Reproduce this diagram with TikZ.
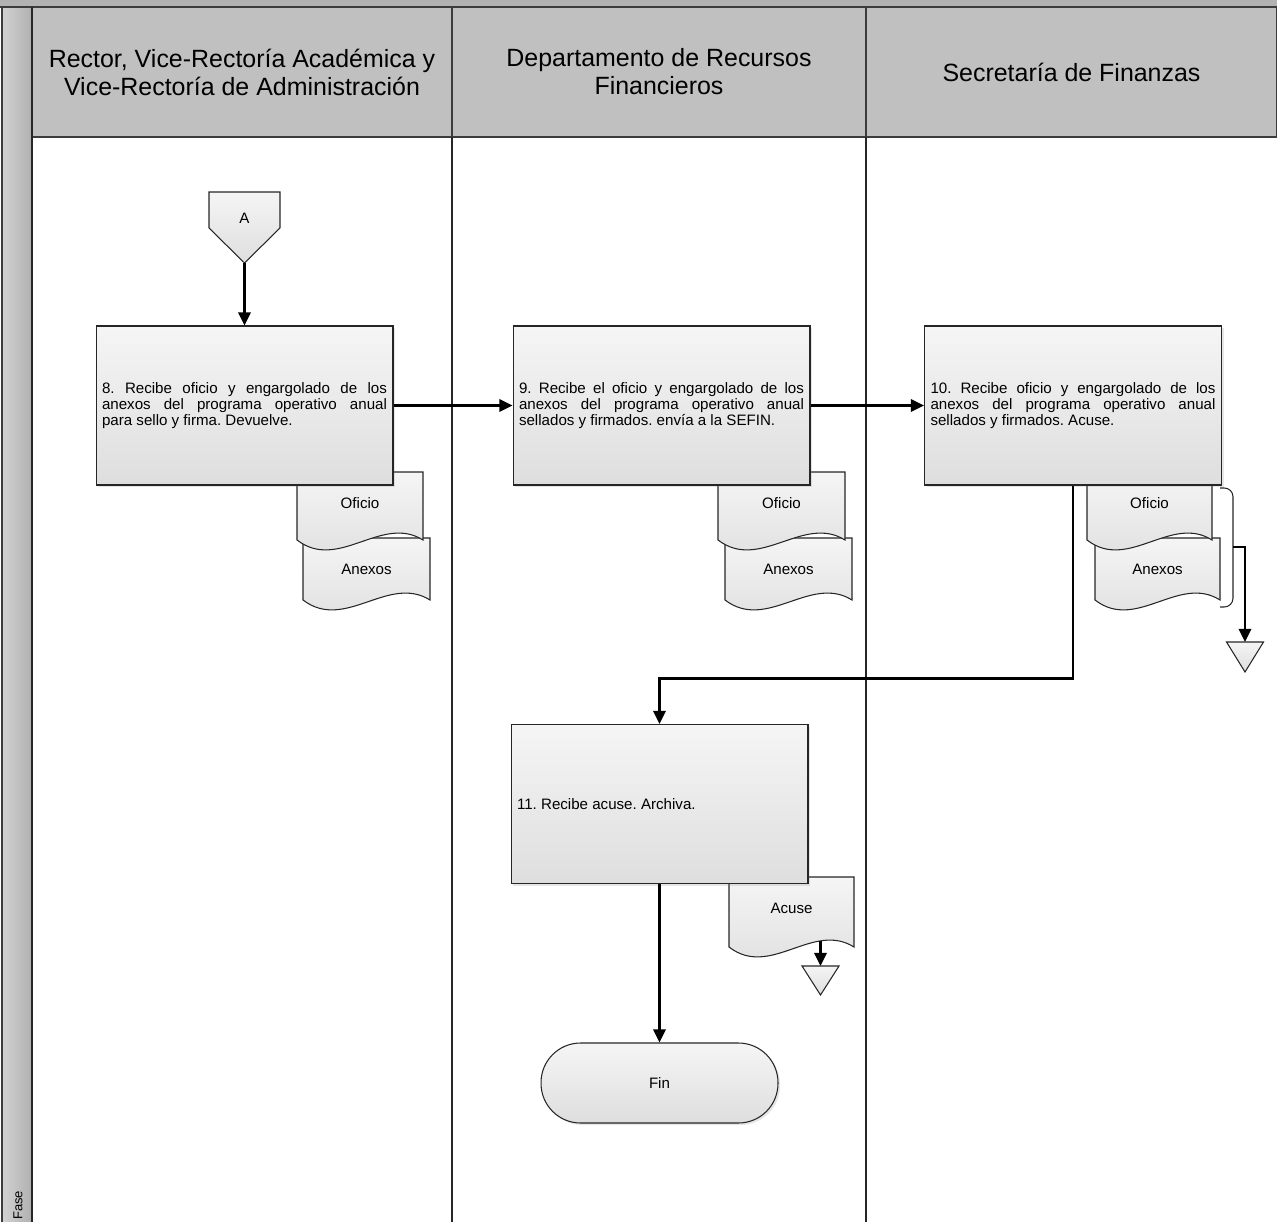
\documentclass[tikz,border=0pt]{standalone}
\usepackage{fontspec}
\setmainfont{Liberation Sans}
\usetikzlibrary{positioning, calc, arrows.meta, shadows}
\definecolor{LaneGray}{RGB}{192,192,192}
\definecolor{BandGray}{RGB}{178,178,178}
\definecolor{LineGray}{RGB}{60,60,60}
\definecolor{BoxTop}{RGB}{245,245,245}
\definecolor{BoxBottom}{RGB}{222,222,222}

% document symbol with a wavy lower edge, label node named #1
% #2 left x, #3 top y, #4 width, #5 height down to the trough, #6 label
\newcommand{\docshape}[6]{%
  \path[docbody] (#2,#3) -- ({#2+#4},#3) -- ({#2+#4},{#3+#5-10})
    .. controls ({#2+0.67*#4},{#3+#5-36}) and ({#2+0.33*#4},{#3+#5+22}) ..
    (#2,{#3+#5-10}) -- cycle;
  \node[doctext] (#1) at ({#2+0.5*#4},{#3+31}) {#6};}

\begin{document}
\frenchspacing
\begin{tikzpicture}[x=0.02cm, y=-0.02cm,
    lanehead/.style={draw=LineGray, fill=LaneGray, line width=0.8pt,
                     minimum height=2.6cm, align=center,
                     font=\fontsize{14.2}{16}\selectfont},
    stepbox/.style={draw=black!85, line width=0.6pt, top color=BoxTop,
                    bottom color=BoxBottom, minimum width=5.94cm,
                    minimum height=3.18cm, text width=5.7cm, inner xsep=0.12cm,
                    align=justify, font=\fontsize{8.6}{9.2}\selectfont,
                    drop shadow={opacity=0.2, shadow xshift=1.2pt, shadow yshift=-1.2pt}},
    terminal/.style={draw=black!85, line width=0.6pt, top color=BoxTop,
                     bottom color=BoxBottom, rounded corners=22.5pt,
                     minimum width=4.74cm, minimum height=1.6cm,
                     font=\fontsize{8.6}{9.2}\selectfont,
                     drop shadow={opacity=0.2, shadow xshift=1.2pt, shadow yshift=-1.2pt}},
    docbody/.style={draw=black!85, line width=0.6pt, top color=BoxTop, bottom color=BoxBottom},
    doctext/.style={font=\fontsize{8.6}{9.2}\selectfont, inner sep=1pt},
    tri/.style={draw=black!85, line width=0.6pt, top color=BoxTop, bottom color=BoxBottom},
    arr/.style={-{Triangle[length=7.5pt,width=7pt]}, line width=1.5pt},
    lane/.style={draw=black!85, line width=0.8pt}
  ]
  \useasboundingbox (0,0) rectangle (1277,1222);

  % pool frame
  \fill[BandGray] (0,0) rectangle (1277,7);
  \shade[left color=gray!35, right color=gray!62] (2,7) rectangle (32,1222);
  \node[lanehead, minimum width=8.4cm]  (rector) at (242,72)
        {Rector, Vice-Rectoría Académica y\\Vice-Rectoría de Administración};
  \node[lanehead, minimum width=8.28cm] (drf)    at (659,72)
        {Departamento de Recursos\\Financieros};
  \node[lanehead, minimum width=8.22cm] (sefin)  at (1071.5,72)
        {Secretaría de Finanzas};
  \draw[lane, LineGray] (0,7) -- (1277,7);
  \draw[lane, LineGray] (2,7) -- (2,1222);
  \draw[lane] (32,7) -- (32,1222);
  \draw[lane] (452,137) -- (452,1222);
  \draw[lane] (866,137) -- (866,1222);
  \node[rotate=90, anchor=west, inner sep=1pt, font=\fontsize{7.4}{8}\selectfont]
        (fase) at (18,1222) {Fase};

  % off-page connector
  \path[tri] (209,192) -- (280,192) -- (280,228) -- (244.5,263) -- (209,228) -- cycle;
  \node[doctext] (conA) at (244.5,218) {A};
  \coordinate (conAtip) at (244.5,263);

  % documents
  \docshape{an1}{303}{538}{127}{72}{Anexos}
  \docshape{of1}{297}{472}{126}{78}{Oficio}
  \docshape{an2}{725}{538}{127}{72}{Anexos}
  \docshape{of2}{718}{472}{127}{78}{Oficio}
  \docshape{an3}{1095}{538}{125}{72}{Anexos}
  \docshape{of3}{1087}{472}{125}{78}{Oficio}
  \docshape{acuse}{729}{877}{125}{80}{Acuse}

  % activities
  \node[stepbox] (b8)  at (244.5,405.5)
        {8. Recibe oficio y engargolado de los\linebreak anexos del programa operativo anual\linebreak para sello y firma. Devuelve.};
  \node[stepbox] (b9)  at (661.5,405.5)
        {9. Recibe el oficio y engargolado de los\linebreak anexos del programa operativo anual\linebreak sellados y firmados. envía a la SEFIN.};
  \node[stepbox] (b10) at (1073,405.5)
        {10. Recibe oficio y engargolado de los\linebreak anexos del programa operativo anual\linebreak sellados y firmados. Acuse.};
  \node[stepbox] (b11) at (659.5,804)
        {11. Recibe acuse. Archiva.};
  \node[terminal] (fin) at (659.5,1083) {Fin};

  % bracket round the SEFIN documents
  \draw[black!85, line width=0.6pt, rounded corners=5pt]
        (1220,488) -- (1233,488) -- (1233,607) -- (1220,607);
  \coordinate (brk)   at (1233,547);
  \coordinate (arch1) at (1245,642);
  \coordinate (acusetip) at (820.5,941);
  \coordinate (arch2) at (820.5,966);

  % flow
  \draw[arr] (conAtip) -- (b8.north);
  \draw[arr] (b8) -- (b9);
  \draw[arr] (b9) -- (b10);
  \draw[arr] (b10.south) -- ++(0,193) -| (b11.north);
  \draw[arr] (b11.south) -- (fin.north);
  \draw[arr] (brk) -| (arch1);
  \draw[arr] (acusetip) -- (arch2);

  % archive triangles
  \path[tri] (arch1) ++(-18.5,0) -- ++(37,0) -- ++(-18.5,30) -- cycle;
  \path[tri] (arch2) ++(-18.5,0) -- ++(37,0) -- ++(-18.5,29) -- cycle;
\end{tikzpicture}
\end{document}
